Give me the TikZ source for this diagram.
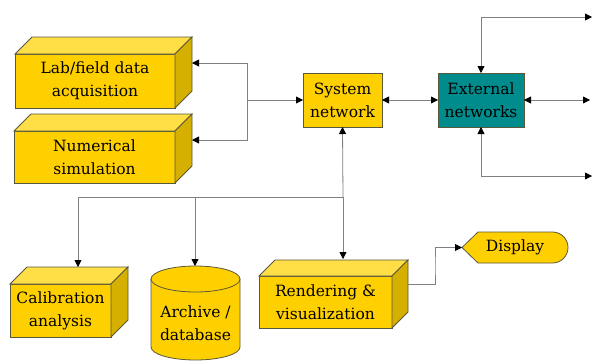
\documentclass[tikz,border=0pt]{standalone}
\usepackage{fontspec}
\setmainfont{DejaVu Serif}
\usetikzlibrary{arrows.meta,calc}
\definecolor{boxgold}{RGB}{255,208,0}
\definecolor{boxtop}{RGB}{255,222,70}
\definecolor{boxside}{RGB}{214,176,0}
\definecolor{extteal}{RGB}{0,140,140}
\definecolor{edgegray}{RGB}{90,88,60}
\definecolor{wiregray}{RGB}{128,128,128}
\newcommand{\boxsides}[2]{\filldraw[fill=boxtop,draw=edgegray,line width=.8pt] (#1.north west)--++(#2,-#2)--($(#1.north east)+(#2,-#2)$)--(#1.north east)--cycle;
\filldraw[fill=boxside,draw=edgegray,line width=.8pt] (#1.north east)--++(#2,-#2)--($(#1.south east)+(#2,-#2)$)--(#1.south east)--cycle;}

\begin{document}
\begin{tikzpicture}[x=1pt,y=-1pt,>={Triangle[black,length=7pt,width=7pt]},
every node/.style={font=\fontsize{15.5}{23}\selectfont,align=center,inner sep=0pt,outer sep=0pt},
front/.style={draw=edgegray,fill=boxgold,line width=.8pt},
wire/.style={wiregray,line width=.8pt}]
\useasboundingbox (0,0) rectangle (592,360);
% boxes
\node[front,minimum width=160,minimum height=54] (lab) at (95,81) {Lab/field data\\acquisition};\boxsides{lab}{17}
\node[front,minimum width=161,minimum height=52] (num) at (94.5,157) {Numerical\\simulation};\boxsides{num}{17}
\node[front,minimum width=101,minimum height=53] (cal) at (60.5,310.5) {Calibration\\analysis};\boxsides{cal}{17}
\node[front,minimum width=133,minimum height=52] (rend) at (325.5,302) {Rendering \&\\visualization};\boxsides{rend}{16}
\node[front,minimum width=79,minimum height=54] (sys) at (342.5,100) {System\\network};
\node[front,fill=extteal,minimum width=86,minimum height=54] (ext) at (481,100) {External\\networks};
% archive
\filldraw[fill=boxgold,draw=edgegray,line width=.8pt] (151,279)--(151,347) arc[start angle=180,end angle=0,x radius=44.5,y radius=13]--(240,279)--cycle;
\filldraw[fill=boxgold,draw=edgegray,line width=.8pt] (195.5,279) ellipse[x radius=44.5,y radius=13];
\node (arch) at (195.5,323) {Archive /\\database};
% display
\node[minimum width=106,minimum height=31] (disp) at (515,247.5) {};
\filldraw[fill=boxgold,draw=edgegray,line width=.8pt] (disp.west)--([xshift=16pt]disp.north west)--([xshift=-15.5pt]disp.north east) arc[start angle=-90,end angle=90,radius=15.5]--([xshift=16pt]disp.south west)--cycle;
\node (disptext) at (disp) {Display};
% connectors
\coordinate (lj) at (247,100);
\coordinate (bj) at (343,197);
\coordinate (et) at (592,17);
\coordinate (em) at (590,100);
\coordinate (eb) at (592,176);
\coordinate (rin) at (343,259);
\coordinate (cin) at (78,267);
\coordinate (ain) at (195,266);
\coordinate (rout) at ([shift={(16,-18)}]rend.east);
\draw[wire,->] (lj)--(sys.west);
\draw[wire,->] (lj) |- ([shift={(17,-18)}]lab.east);
\draw[wire,->] (lj) |- ([shift={(17,-17)}]num.east);
\draw[wire,<->] (sys)--(ext);
\draw[wire,<->] (ext.north) |- (et);
\draw[wire,<->] (ext.east)--(em);
\draw[wire,<->] (ext.south) |- (eb);
\draw[wire,->] (bj)--(sys.south);
\draw[wire,->] (bj)--(rin);
\draw[wire,->] (bj) -| (cin);
\draw[wire,->] (bj) -| (ain);
\draw[wire,->] (rout) -| ($(rout)!.5!(disp.west)$) |- (disp.west);
\end{tikzpicture}
\end{document}
